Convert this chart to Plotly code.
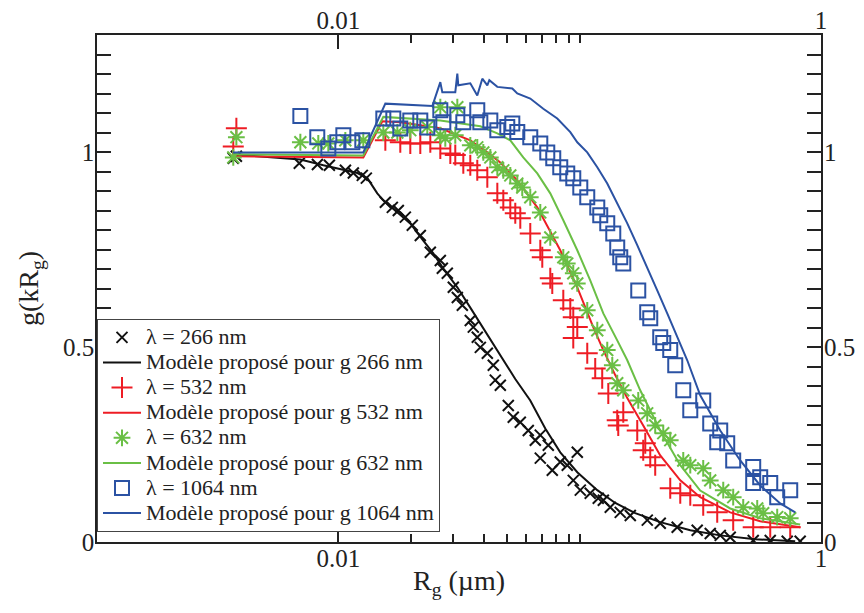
import plotly.graph_objects as go

# ---------------- data ----------------
# lambda = 266 nm : measured points
x266 = [0.00367, 0.00378, 0.00689, 0.00819, 0.00918, 0.0107, 0.01154, 0.01257, 0.01306,
        0.01566, 0.01674, 0.01772, 0.01895, 0.02025, 0.02186, 0.02405, 0.02646, 0.02697,
        0.02828, 0.02995, 0.03112, 0.03264, 0.03522, 0.03624, 0.03765, 0.03876, 0.04143,
        0.04386, 0.04471, 0.04690, 0.05061, 0.05307, 0.05675, 0.06124, 0.06549, 0.06868,
        0.07412, 0.06868, 0.07700, 0.08310, 0.08883, 0.09775, 0.09408, 0.1006, 0.1106,
        0.1194, 0.1253, 0.1339, 0.1473, 0.1621, 0.1906, 0.2157, 0.2536, 0.3069, 0.3476,
        0.3824, 0.4206, 0.5238, 0.6161, 0.7244, 0.82]
y266 = [0.984, 0.989, 0.971, 0.968, 0.966, 0.953, 0.946, 0.940, 0.933,
        0.871, 0.858, 0.850, 0.833, 0.812, 0.786, 0.743, 0.722, 0.702,
        0.689, 0.653, 0.627, 0.607, 0.568, 0.551, 0.525, 0.499, 0.484,
        0.453, 0.415, 0.402, 0.350, 0.320, 0.307, 0.286, 0.261, 0.274,
        0.248, 0.215, 0.184, 0.205, 0.197, 0.230, 0.158, 0.133, 0.125,
        0.112, 0.107, 0.089, 0.076, 0.068, 0.056, 0.048, 0.038, 0.030, 0.022,
        0.017, 0.012, 0.004, 0.004, 0.002, 0.002]
# lambda = 266 nm : proposed model
xm266 = [0.00367, 0.00696, 0.00867, 0.01019, 0.01199, 0.01319, 0.01450, 0.01536, 0.01756,
         0.01987, 0.02249, 0.02475, 0.02723, 0.03112, 0.03522, 0.03876, 0.04386, 0.04826,
         0.05410, 0.06242, 0.07202, 0.08310, 0.09775, 0.1183, 0.1404, 0.1699, 0.2157,
         0.2873, 0.3823, 0.5339, 0.7819]
ym266 = [0.994, 0.981, 0.966, 0.956, 0.946, 0.933, 0.894, 0.876, 0.845,
         0.817, 0.773, 0.740, 0.701, 0.653, 0.601, 0.560, 0.508, 0.464,
         0.418, 0.363, 0.291, 0.230, 0.179, 0.133, 0.100, 0.074, 0.051,
         0.030, 0.017, 0.007, 0.002]

# lambda = 532 nm : measured points
x532 = [0.00378, 0.00367, 0.01566, 0.01806, 0.01987, 0.02186, 0.02405, 0.02646, 0.02911,
        0.03052, 0.03295, 0.03522, 0.03765, 0.04143, 0.04558, 0.04826, 0.05159, 0.05410,
        0.05675, 0.06242, 0.06868, 0.07000, 0.07554, 0.07700, 0.08554, 0.09145, 0.09408,
        0.09775, 0.09408, 0.1075, 0.1160, 0.1240, 0.1314, 0.1431, 0.1516, 0.1445, 0.1732,
        0.1870, 0.1834, 0.1961, 0.2056, 0.2373, 0.2611, 0.2873, 0.3251, 0.3715, 0.4327,
        0.5237, 0.6161, 0.7455]
y532 = [1.061, 1.014, 1.030, 1.025, 1.022, 1.022, 1.025, 1.009, 0.996,
        0.992, 0.971, 0.966, 0.953, 0.935, 0.894, 0.876, 0.858, 0.843,
        0.830, 0.791, 0.748, 0.730, 0.676, 0.663, 0.620, 0.599, 0.576,
        0.551, 0.523, 0.484, 0.445, 0.420, 0.381, 0.312, 0.333, 0.299, 0.286,
        0.253, 0.235, 0.217, 0.197, 0.138, 0.125, 0.120, 0.094, 0.076, 0.056,
        0.038, 0.038, 0.038]
xm532 = [0.00367, 0.01269, 0.01522, 0.01806, 0.02646, 0.03522, 0.04143, 0.04690, 0.05515,
         0.06674, 0.08310, 0.09775, 0.1138, 0.1253, 0.1404, 0.1575, 0.1834, 0.2157,
         0.2611, 0.3159, 0.4206, 0.5599, 0.8196]
ym532 = [0.989, 0.986, 1.079, 1.076, 1.061, 1.030, 0.999, 0.973, 0.927,
         0.858, 0.748, 0.653, 0.551, 0.492, 0.428, 0.369, 0.299, 0.222,
         0.158, 0.115, 0.076, 0.053, 0.038]

# lambda = 632 nm : measured points
x632 = [0.00367, 0.00378, 0.00696, 0.00826, 0.00909, 0.01069, 0.01269, 0.01536, 0.01756,
        0.01987, 0.02337, 0.02646, 0.02646, 0.02775, 0.03052, 0.03112, 0.03522, 0.03765,
        0.03988, 0.04264, 0.04558, 0.04826, 0.05159, 0.05515, 0.05782, 0.06242, 0.06868,
        0.07554, 0.08554, 0.08883, 0.09408, 0.09775, 0.1075, 0.1183, 0.1301, 0.1365,
        0.1431, 0.1516, 0.1749, 0.1905, 0.2056, 0.2220, 0.2373, 0.2687, 0.2873, 0.3251,
        0.3475, 0.3935, 0.4327, 0.4761, 0.5442, 0.5762, 0.6585, 0.7455]
y632 = [0.986, 1.038, 1.025, 1.022, 1.022, 1.030, 1.030, 1.050, 1.050,
        1.056, 1.064, 1.115, 1.043, 1.035, 1.043, 1.115, 1.017, 1.012,
        0.999, 0.986, 0.961, 0.953, 0.940, 0.919, 0.909, 0.884, 0.845,
        0.781, 0.730, 0.714, 0.689, 0.663, 0.594, 0.543, 0.492, 0.453,
        0.407, 0.389, 0.363, 0.330, 0.299, 0.279, 0.261, 0.209, 0.197, 0.189,
        0.158, 0.133, 0.115, 0.089, 0.086, 0.074, 0.064, 0.061]
xm632 = [0.00367, 0.01269, 0.01536, 0.02646, 0.03876, 0.04558, 0.05159, 0.05838, 0.06674,
         0.07554, 0.08554, 0.09775, 0.1106, 0.1253, 0.1431, 0.1575, 0.1782, 0.2157,
         0.2611, 0.3159, 0.4206, 0.5599, 0.8196]
ym632 = [0.994, 0.991, 1.090, 1.081, 1.066, 1.048, 1.030, 0.986, 0.945,
         0.894, 0.825, 0.748, 0.671, 0.586, 0.517, 0.466, 0.389, 0.286,
         0.197, 0.132, 0.086, 0.061, 0.045]

# lambda = 1064 nm : measured points
x1064 = [0.00696, 0.00818, 0.00909, 0.00990, 0.01049, 0.01143, 0.01257, 0.01536, 0.01690,
         0.01806, 0.01987, 0.02186, 0.02337, 0.02646, 0.02723, 0.03112, 0.03295, 0.03765,
         0.03876, 0.04264, 0.04558, 0.05012, 0.05259, 0.05515, 0.06242, 0.06868, 0.07341,
         0.07772, 0.08310, 0.08883, 0.09408, 0.1006, 0.1075, 0.1183, 0.1217, 0.1301,
         0.1378, 0.1431, 0.1473, 0.1516, 0.1749, 0.1905, 0.1961, 0.2157, 0.2220, 0.2373,
         0.2489, 0.2687, 0.2873, 0.3251, 0.3475, 0.3823, 0.3715, 0.4087, 0.4327, 0.5237,
         0.5599, 0.5237, 0.6161, 0.6585, 0.7455]
y1064 = [1.092, 1.038, 1.009, 1.025, 1.043, 1.025, 1.030, 1.086, 1.086,
         1.060, 1.081, 1.081, 1.063, 1.107, 1.076, 1.094, 1.076, 1.107,
         1.076, 1.081, 1.056, 1.064, 1.073, 1.051, 1.038, 1.022, 0.999,
         0.984, 0.961, 0.945, 0.933, 0.909, 0.884, 0.858, 0.838, 0.817,
         0.791, 0.755, 0.730, 0.714, 0.645, 0.589, 0.574, 0.525, 0.510, 0.492,
         0.453, 0.389, 0.338, 0.363, 0.304, 0.286, 0.256, 0.253, 0.209, 0.192,
         0.166, 0.151, 0.151, 0.115, 0.133]
xm1064 = [0.00366, 0.01269, 0.01566, 0.02452, 0.02646, 0.02697, 0.03052, 0.03112, 0.03141,
          0.03522, 0.03765, 0.03950, 0.04143, 0.04223, 0.04558, 0.05259, 0.05515, 0.06242,
          0.07067, 0.08076, 0.09145, 0.09775, 0.1075, 0.1183, 0.1301, 0.1431, 0.1575,
          0.1732, 0.1905, 0.2096, 0.2306, 0.2536, 0.2791, 0.3159, 0.3823, 0.4627, 0.5599,
          0.6776, 0.7819]
ym1064 = [0.999, 0.999, 1.124, 1.118, 1.179, 1.153, 1.153, 1.201, 1.171,
          1.176, 1.145, 1.188, 1.171, 1.184, 1.167, 1.163, 1.150, 1.137,
          1.111, 1.086, 1.051, 1.025, 0.999, 0.961, 0.919, 0.868, 0.817,
          0.761, 0.705, 0.645, 0.586, 0.526, 0.466, 0.376, 0.286, 0.209, 0.145,
          0.099, 0.076]

x_tickvals = [0.01, 1]
x_ticktext = ["0.01", "1"]
x_minor = [0.02, 0.03, 0.04, 0.05, 0.06, 0.07, 0.08, 0.09, 0.1]
y_tickvals = [0, 0.5, 1]
y_ticktext = ["0", "0.5", "1"]

labels = ["λ = 266 nm", "Modèle proposé pour g 266 nm",
          "λ = 532 nm", "Modèle proposé pour g 532 nm",
          "λ = 632 nm", "Modèle proposé pour g 632 nm",
          "λ = 1064 nm", "Modèle proposé pour g 1064 nm"]

# ---------------- styles ----------------
BLACK = "#111111"
RED = "#ee1c24"
GREEN = "#6abf45"
BLUE = "#2b52a3"
AXC = "#222222"
FONT = "Liberation Serif"
LEG_TXT = '<span style="font-size:22px">%s</span>'

fig = go.Figure()

def pts(x, y, name, color, symbol, size):
    fig.add_trace(go.Scatter(x=x, y=y, mode="markers", name=LEG_TXT % name,
                             marker=dict(symbol=symbol, size=size, color=color,
                                         line=dict(color=color, width=2))))

def model(x, y, name, color):
    fig.add_trace(go.Scatter(x=x, y=y, mode="lines", name=LEG_TXT % name,
                             line=dict(color=color, width=2)))

pts(x266, y266, labels[0], BLACK, "x-thin", 11)
model(xm266, ym266, labels[1], BLACK)
pts(x532, y532, labels[2], RED, "cross-thin", 15)
model(xm532, ym532, labels[3], RED)
pts(x632, y632, labels[4], GREEN, "asterisk", 14)
model(xm632, ym632, labels[5], GREEN)
pts(x1064, y1064, labels[6], BLUE, "square-open", 14)
model(xm1064, ym1064, labels[7], BLUE)

# invisible helpers so that the top / right label axes and the minor-tick axis are drawn
fig.add_trace(go.Scatter(x=xm266, y=ym266, xaxis="x2", yaxis="y2", mode="markers",
                         marker=dict(opacity=0), showlegend=False, hoverinfo="skip"))
fig.add_trace(go.Scatter(x=xm266, y=ym266, xaxis="x3", yaxis="y", mode="markers",
                         marker=dict(opacity=0), showlegend=False, hoverinfo="skip"))

tickfont = dict(family=FONT, size=25, color=AXC)
base = dict(showgrid=False, zeroline=False, tickfont=tickfont,
            tickwidth=1.5, tickcolor=AXC)

fig.update_layout(
    width=864, height=613,
    margin=dict(l=97, r=43, t=35, b=71, autoexpand=False),
    paper_bgcolor="white", plot_bgcolor="white",
    font=dict(family=FONT, color=AXC),
    xaxis=dict(type="log", range=[-3, 0], tickmode="array", tickvals=x_tickvals,
               ticktext=x_ticktext, ticks="inside", ticklen=14, mirror="allticks",
               showline=True, linecolor=AXC, linewidth=1.5, automargin=True,
               ticklabelstandoff=-7,
               title=dict(text="R<sub>g</sub> (µm)", font=dict(family=FONT, size=28),
                          standoff=0),
               **base),
    xaxis3=dict(type="log", range=[-3, 0], overlaying="x", side="bottom", anchor="y",
                tickmode="array", tickvals=x_minor, ticks="inside", ticklen=8,
                mirror="allticks", showticklabels=False, showline=False,
                automargin=False, **base),
    xaxis2=dict(type="log", range=[-3, 0], overlaying="x", side="top", anchor="y2",
                tickmode="array", tickvals=x_tickvals, ticktext=x_ticktext,
                ticks="", showline=False, automargin=False, **base),
    yaxis=dict(range=[0, 1.3], tickmode="array", tickvals=y_tickvals,
               ticktext=y_ticktext, ticks="inside", ticklen=14, mirror="allticks",
               showline=True, linecolor=AXC, linewidth=1.5, automargin=True,
               ticklabelstandoff=-4,
               minor=dict(tickmode="linear", tick0=0, dtick=0.05, ticks="inside",
                          ticklen=8, tickwidth=1.5, tickcolor=AXC),
               title=dict(text="g(kR<sub>g</sub>)", font=dict(family=FONT, size=28),
                          standoff=16),
               **base),
    yaxis2=dict(range=[0, 1.3], overlaying="y", side="right", anchor="x2",
                tickmode="array", tickvals=y_tickvals, ticktext=y_ticktext,
                ticks="", showline=False, automargin=False, ticklabelstandoff=2,
                **base),
    showlegend=True,
    legend=dict(x=0, y=0.02, xanchor="left", yanchor="bottom",
                bgcolor="white", bordercolor="#444", borderwidth=1,
                font=dict(family=FONT, size=17, color=AXC),
                tracegroupgap=0, itemwidth=38),
)

fig.write_html("out.html", config={"displayModeBar": False},
               post_script="document.body.style.margin='0';")
